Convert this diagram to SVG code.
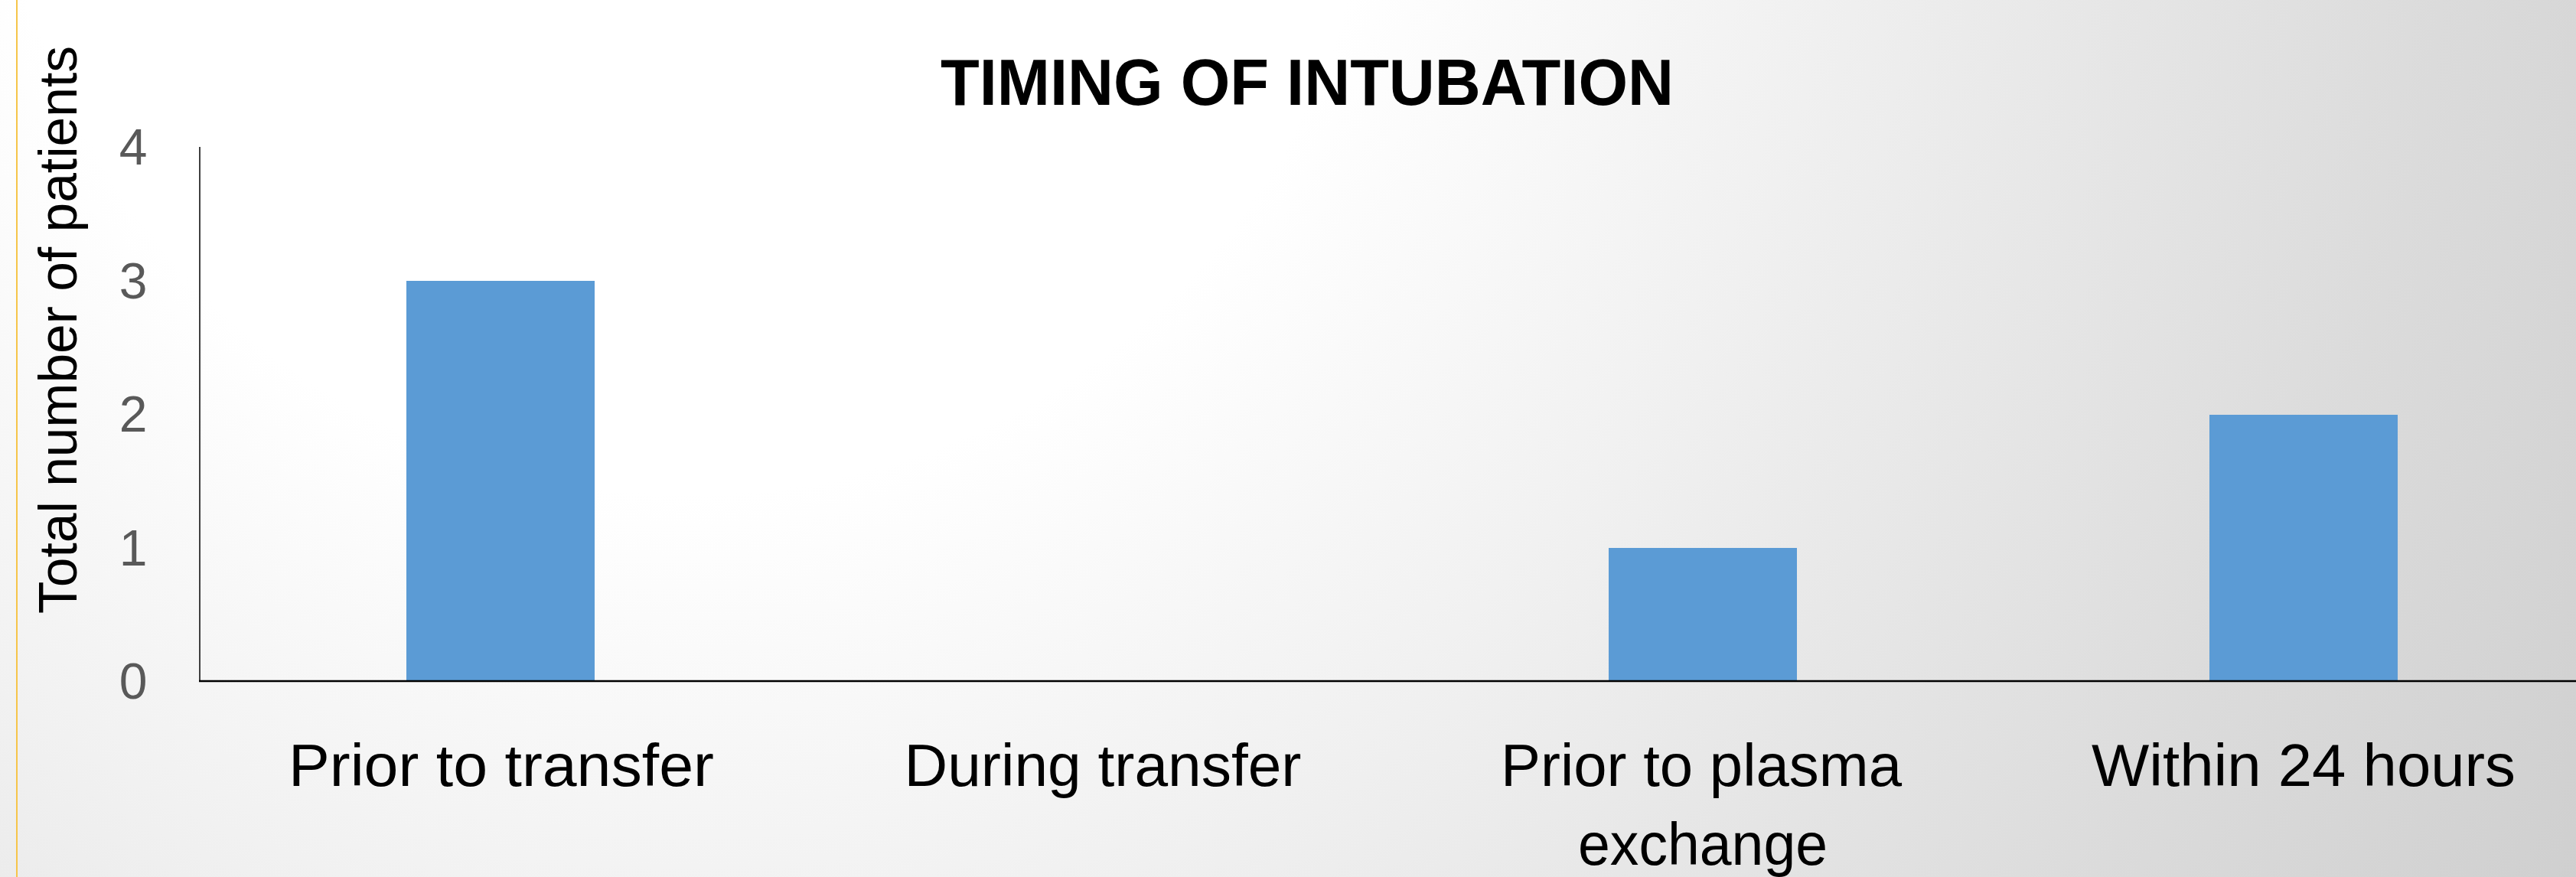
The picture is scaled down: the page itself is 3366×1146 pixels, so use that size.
<svg xmlns="http://www.w3.org/2000/svg" width="3366" height="1146" viewBox="0 0 3366 1146">
  <defs>
    <radialGradient id="bg" gradientUnits="userSpaceOnUse" cx="900" cy="-250" r="3200">
      <stop offset="0" stop-color="#ffffff"/>
      <stop offset="0.28" stop-color="#ffffff"/>
      <stop offset="0.47" stop-color="#f0f0f0"/>
      <stop offset="0.72" stop-color="#dbdbdb"/>
      <stop offset="0.89" stop-color="#cfcfcf"/>
      <stop offset="1" stop-color="#c8c8c8"/>
    </radialGradient>
    <style>
      .bar { fill: #5b9bd5; }
      .tick { font-family: "Liberation Sans", Arial, sans-serif; font-size: 66px; fill: #595959; text-anchor: middle; }
      .cat { font-family: "Liberation Sans", Arial, sans-serif; font-size: 78px; fill: #000000; text-anchor: middle; }
      .title { font-family: "Liberation Sans", Arial, sans-serif; font-size: 86px; font-weight: bold; fill: #000000; text-anchor: middle; }
      .ytitle { font-family: "Liberation Sans", Arial, sans-serif; font-size: 70px; fill: #000000; text-anchor: middle; }
    </style>
  </defs>

  <rect x="0" y="0" width="3366" height="1146" fill="url(#bg)"/>
  <rect x="21" y="0" width="2" height="1146" fill="#f6c54a"/>

  <g id="title">
    <text class="title" x="1708" y="137" textLength="958" lengthAdjust="spacingAndGlyphs">TIMING OF INTUBATION</text>
  </g>

  <g id="y-axis-title">
    <text class="ytitle" transform="translate(100,431) rotate(-90)" x="0" y="0" textLength="742" lengthAdjust="spacingAndGlyphs">Total number of patients</text>
  </g>

  <g id="y-ticks">
    <text class="tick" x="174" y="913">0</text>
    <text class="tick" x="174" y="739">1</text>
    <text class="tick" x="174" y="564">2</text>
    <text class="tick" x="174" y="390">3</text>
    <text class="tick" x="174" y="215">4</text>
  </g>

  <g id="bar-prior-to-transfer">
    <rect class="bar" x="531" y="367" width="246" height="523"/>
    <text class="cat" x="655" y="1027" textLength="556" lengthAdjust="spacingAndGlyphs">Prior to transfer</text>
  </g>

  <g id="bar-during-transfer">
    <text class="cat" x="1441" y="1027" textLength="519" lengthAdjust="spacingAndGlyphs">During transfer</text>
  </g>

  <g id="bar-prior-to-plasma-exchange">
    <rect class="bar" x="2102" y="716" width="246" height="174"/>
    <text class="cat" x="2223" y="1027" textLength="524" lengthAdjust="spacingAndGlyphs">Prior to plasma</text>
    <text class="cat" x="2225" y="1130" textLength="326" lengthAdjust="spacingAndGlyphs">exchange</text>
  </g>

  <g id="bar-within-24-hours">
    <rect class="bar" x="2887" y="542" width="246" height="348"/>
    <text class="cat" x="3010" y="1027" textLength="554" lengthAdjust="spacingAndGlyphs">Within 24 hours</text>
  </g>

  <g id="connectors">
    <line x1="261" y1="192" x2="261" y2="891" stroke="#404040" stroke-width="2"/>
    <line x1="260" y1="890" x2="3366" y2="890" stroke="#000000" stroke-width="2.5"/>
  </g>
</svg>
